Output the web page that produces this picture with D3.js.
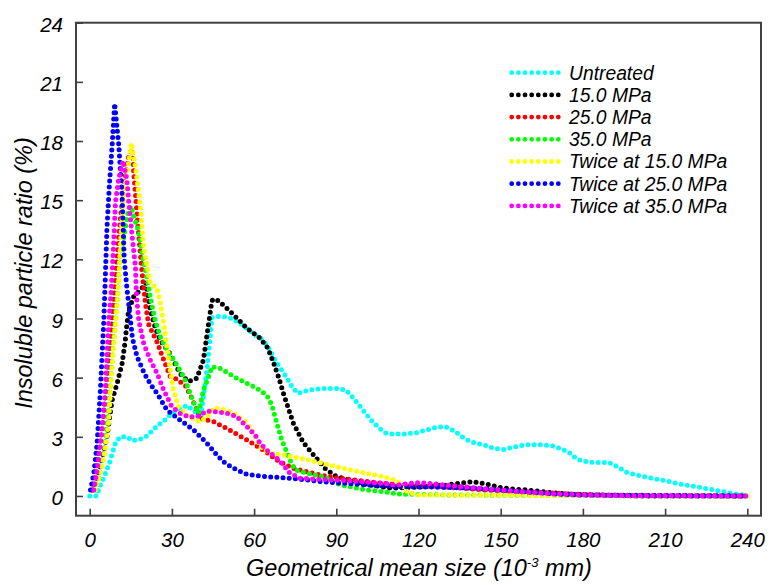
<!DOCTYPE html>
<html>
<head>
<meta charset="utf-8">
<script src="https://cdn.jsdelivr.net/npm/d3@7"></script>
<style>
  html, body { margin: 0; padding: 0; background: #fff; }
  svg text { font-family: "Liberation Sans", Arial, sans-serif; font-style: italic; fill: #000; }
</style>
</head>
<body>
<svg id="chart" width="771" height="585"></svg>
<script>
// ---------------- data ----------------
const seriesNames = ["Untreated", "15.0 MPa", "25.0 MPa", "35.0 MPa",
  "Twice at 15.0 MPa", "Twice at 25.0 MPa", "Twice at 35.0 MPa"];
const seriesColors = ["#00FFFF", "#000000", "#FF0000", "#00FF00", "#FFFF00", "#0000FF", "#FF00FF"];

const xTicks = [0, 30, 60, 90, 120, 150, 180, 210, 240];
const yTicks = [0, 3, 6, 9, 12, 15, 18, 21, 24];

const untreated = [[0,0],[2.5,0],[4,0.6],[5.1,0.9],[7.5,1.8],[9.4,2.7],[11.2,3.0],[13.6,3.0],[15.6,2.8],[18.5,2.88],[20.5,3.0],[22.7,3.3],[25,3.6],[27,3.8],[30,4.2],[32.5,4.4],[35.5,4.6],[37.3,4.4],[39.1,4.2],[40.3,3.9],[41.5,5.0],[42.8,6.4],[44,8.1],[44.6,9.05],[46.5,9.1],[48.8,9.1],[52,9.0],[56,8.65],[60,8.2],[63.4,7.9],[65.8,7.4],[68,6.8],[70,6.4],[71.9,6.0],[74,5.5],[76,5.2],[80,5.37],[85,5.45],[90,5.45],[93.5,5.37],[96,5.0],[99.8,4.35],[103,3.8],[106,3.4],[108,3.2],[111,3.13],[115,3.15],[119,3.2],[123,3.35],[127,3.5],[130,3.5],[133,3.3],[136,3.0],[139,2.75],[144,2.58],[148,2.4],[151,2.36],[154,2.45],[157,2.55],[160,2.6],[165,2.6],[169,2.53],[172,2.4],[175,2.2],[178,1.85],[182,1.72],[186,1.7],[189.5,1.69],[193,1.45],[196,1.2],[200,1.05],[205,0.9],[210,0.78],[215,0.62],[220,0.5],[225,0.38],[230,0.25],[235,0.12],[240,0.03]];

const mpa15 = [[1,0.3],[3,1.1],[5,2.2],[6.3,3.0],[7.3,4.0],[8.2,4.87],[10,5.7],[11.8,6.7],[13,7.9],[13.6,8.75],[14.2,9.4],[16,10.1],[18.5,10.45],[20.5,10.8],[22.1,9.45],[24,8.5],[25.8,7.9],[29.4,7.2],[33,6.2],[36.1,5.8],[39.1,5.97],[41.5,6.9],[43.4,8.75],[44.6,9.9],[45.5,10.0],[47,9.9],[51.3,9.35],[57.4,8.5],[62.2,8.0],[65,7.5],[67,6.8],[69,6.0],[70.7,5.2],[74.3,3.7],[78,2.7],[82.2,2.0],[85.9,1.4],[88.3,1.15],[90,1.0],[95,0.8],[100,0.6],[110,0.4],[120,0.45],[130,0.55],[135,0.65],[140,0.72],[145,0.6],[150,0.42],[155,0.35],[160,0.3],[170,0.15],[180,0.05],[200,0],[240,0]];

const mpa25 = [[1,0.3],[3,1.8],[5,4.0],[7,7.0],[8.5,9.5],[10.6,13.2],[12.5,15.8],[14.2,17.2],[15.4,17.6],[16.7,15.3],[17.9,13.2],[19,11.5],[20.3,9.8],[21.5,8.7],[24.6,7.8],[27,6.9],[29.4,6.05],[31.2,5.97],[34.9,5.6],[37.3,4.95],[39.1,4.36],[40.3,3.94],[45.2,3.77],[50,3.43],[57.4,2.84],[63.4,2.33],[68.3,1.82],[74.3,1.4],[84.1,1.06],[91.4,0.9],[100,0.75],[107,0.64],[115,0.55],[125,0.5],[135,0.4],[145,0.3],[160,0.2],[180,0.08],[200,0.02],[240,0]];

const mpa35 = [[2,0.3],[3.5,1.1],[5.1,2.2],[6.5,3.8],[7.4,5.4],[8.5,7.5],[10,10.0],[11,12.0],[12.4,13.1],[14,14.4],[15.2,14.7],[16,14.2],[17.9,13.4],[19.1,12.3],[20.9,11.1],[22.1,10.1],[23.9,8.9],[25.8,8.07],[28.2,7.4],[31.2,6.8],[34.3,6.05],[36.7,5.2],[38.5,4.53],[39.7,4.19],[41.5,5.37],[43.4,6.05],[44.6,6.55],[47.6,6.47],[53.7,5.97],[61,5.46],[64.6,5.12],[66.5,4.61],[68.3,3.68],[70.1,2.84],[73.1,1.82],[75,1.32],[79.2,1.15],[85.3,0.98],[91.4,0.56],[95,0.47],[101,0.3],[107,0.22],[113,0.1],[130,0.05],[240,0]];

const twice15 = [[2,0.3],[3.5,1.0],[5.3,2.0],[6.9,3.7],[7.6,5.4],[8.7,7.5],[10.3,10.1],[11.2,12.7],[12.4,15.3],[14.2,16.9],[15.2,17.9],[16.7,16.7],[18.5,14.66],[19.7,12.6],[22.1,10.78],[24.6,10.5],[25.8,9.77],[27,8.75],[28.2,7.57],[29.4,6.39],[30.6,5.37],[32.4,4.53],[35.5,4.1],[38.5,3.85],[40.3,3.77],[42.8,4.02],[45.2,4.44],[46.4,4.44],[50,4.35],[53.7,4.1],[57.4,3.68],[59.8,3.18],[62.2,2.5],[65.8,2.16],[70.7,2.08],[76.8,1.91],[85.3,1.65],[95,1.32],[107,0.98],[112,0.78],[116,0.2],[120,0.05],[180,0.02],[240,0]];

const twice25 = [[0.3,0.3],[1.5,1.15],[2.7,2.67],[3.3,4.0],[3.9,5.37],[4.5,7.06],[5.1,8.75],[5.5,10.3],[6.3,13.6],[7.2,15.8],[8.2,17.8],[9.1,19.9],[10.6,17.8],[11.8,15.3],[12.6,12.0],[13.6,10.5],[14.5,9.4],[15.6,8.0],[17.3,7.06],[20,6.2],[22.5,5.6],[24.6,5.2],[28.2,4.36],[33,3.85],[37.9,3.35],[42.8,2.67],[46.4,2.08],[49.5,1.65],[53.7,1.32],[57.4,1.1],[64.6,0.98],[73.1,0.9],[85.3,0.72],[101,0.56],[113,0.47],[125,0.45],[140,0.4],[150,0.3],[160,0.2],[170,0.1],[180,0.05],[240,0]];

const twice35 = [[1.5,0.3],[3.0,1.6],[4.5,3.35],[5.7,5.37],[6.3,7.06],[6.9,8.75],[7.8,10.3],[8.7,12.7],[9.4,14.9],[10.6,16.1],[12.2,17.0],[13.6,16.0],[14.2,15.0],[15.4,13.3],[16.7,11.6],[17.1,10.1],[17.9,8.92],[19.7,7.74],[22.1,6.9],[24.6,6.22],[27,5.37],[30,4.53],[33,4.19],[36.1,4.02],[39.1,4.02],[42.8,4.3],[46.4,4.27],[50,4.2],[53.7,4.02],[57.4,3.51],[60.4,3.09],[62.2,2.67],[64.6,2.33],[68.3,1.91],[70.7,1.57],[73.1,1.15],[76.8,0.9],[88.9,0.81],[100,0.72],[107,0.64],[112,0.55],[119.3,0.68],[125,0.62],[130,0.56],[142.4,0.39],[154.5,0.25],[166.7,0.13],[179,0.05],[200,0.01],[240,0]];

const seriesData = [untreated, mpa15, mpa25, mpa35, twice15, twice25, twice35];

// ---------------- layout ----------------
const svg = d3.select("#chart");
const L = 76, R = 761, T = 22.7, B = 515.7;

const x = d3.scaleLinear().domain([-5, 245]).range([L, R]);
const y = d3.scaleLinear().domain([-1, 24]).range([B, T]);

const frameColor = "#404040";

// axes (ticks inward)
const gx = svg.append("g").attr("transform", `translate(0,${B})`)
  .call(d3.axisBottom(x).tickValues(xTicks).tickSize(-7).tickPadding(10).tickFormat(d3.format("d")));
gx.select(".domain").remove();
gx.selectAll(".tick line").attr("stroke", frameColor).attr("stroke-width", 1.6);
gx.selectAll(".tick text").attr("y", 31.5).attr("dy", null)
  .style("font-size", "20.5px").style("font-family", "'Liberation Sans', Arial, sans-serif").style("font-style", "italic");

const gy = svg.append("g").attr("transform", `translate(${L},0)`)
  .call(d3.axisLeft(y).tickValues(yTicks).tickSize(-7).tickPadding(13).tickFormat(d3.format("d")));
gy.select(".domain").remove();
gy.selectAll(".tick line").attr("stroke", frameColor).attr("stroke-width", 1.6);
gy.selectAll(".tick text").attr("dy", null).attr("y", 8.5)
  .style("font-size", "20.5px").style("font-family", "'Liberation Sans', Arial, sans-serif").style("font-style", "italic");

// series (dotted lines)
const line = d3.line().x(d => x(d[0])).y(d => y(d[1]));
const gs = svg.append("g");
seriesData.forEach((data, i) => {
  gs.append("path")
    .attr("d", line(data))
    .attr("fill", "none")
    .attr("stroke", seriesColors[i])
    .attr("stroke-width", 5)
    .attr("stroke-linecap", "round")
    .attr("stroke-linejoin", "round")
    .attr("stroke-dasharray", "0 6.2");
});

// frame
svg.append("rect")
  .attr("x", L).attr("y", T).attr("width", R - L).attr("height", B - T)
  .attr("fill", "none").attr("stroke", frameColor).attr("stroke-width", 2);

// legend
const leg = svg.append("g");
const legX0 = 511.7, legX1 = 558.3, legTextX = 569, legY0 = 72.7, legDy = 22.2;
seriesNames.forEach((name, i) => {
  const yy = legY0 + i * legDy;
  leg.append("path")
    .attr("d", d3.line()([[legX0, yy], [legX1, yy]]))
    .attr("stroke", seriesColors[i])
    .attr("stroke-width", 4.8)
    .attr("stroke-linecap", "round")
    .attr("stroke-dasharray", "0 6.657");
  leg.append("text")
    .attr("x", legTextX).attr("y", yy + 6.8)
    .style("font-size", "19.3px")
    .text(name);
});

// axis titles
const xt = svg.append("text")
  .attr("x", 419).attr("y", 576)
  .attr("text-anchor", "middle")
  .style("font-size", "23.5px");
xt.append("tspan").text("Geometrical mean size (10");
xt.append("tspan").attr("dy", -9).style("font-size", "13px").text("-3");
xt.append("tspan").attr("dy", 9).text(" mm)");

svg.append("text")
  .attr("transform", "translate(32,273) rotate(-90)")
  .attr("text-anchor", "middle")
  .style("font-size", "23.5px")
  .text("Insoluble particle ratio (%)");
</script>
</body>
</html>
